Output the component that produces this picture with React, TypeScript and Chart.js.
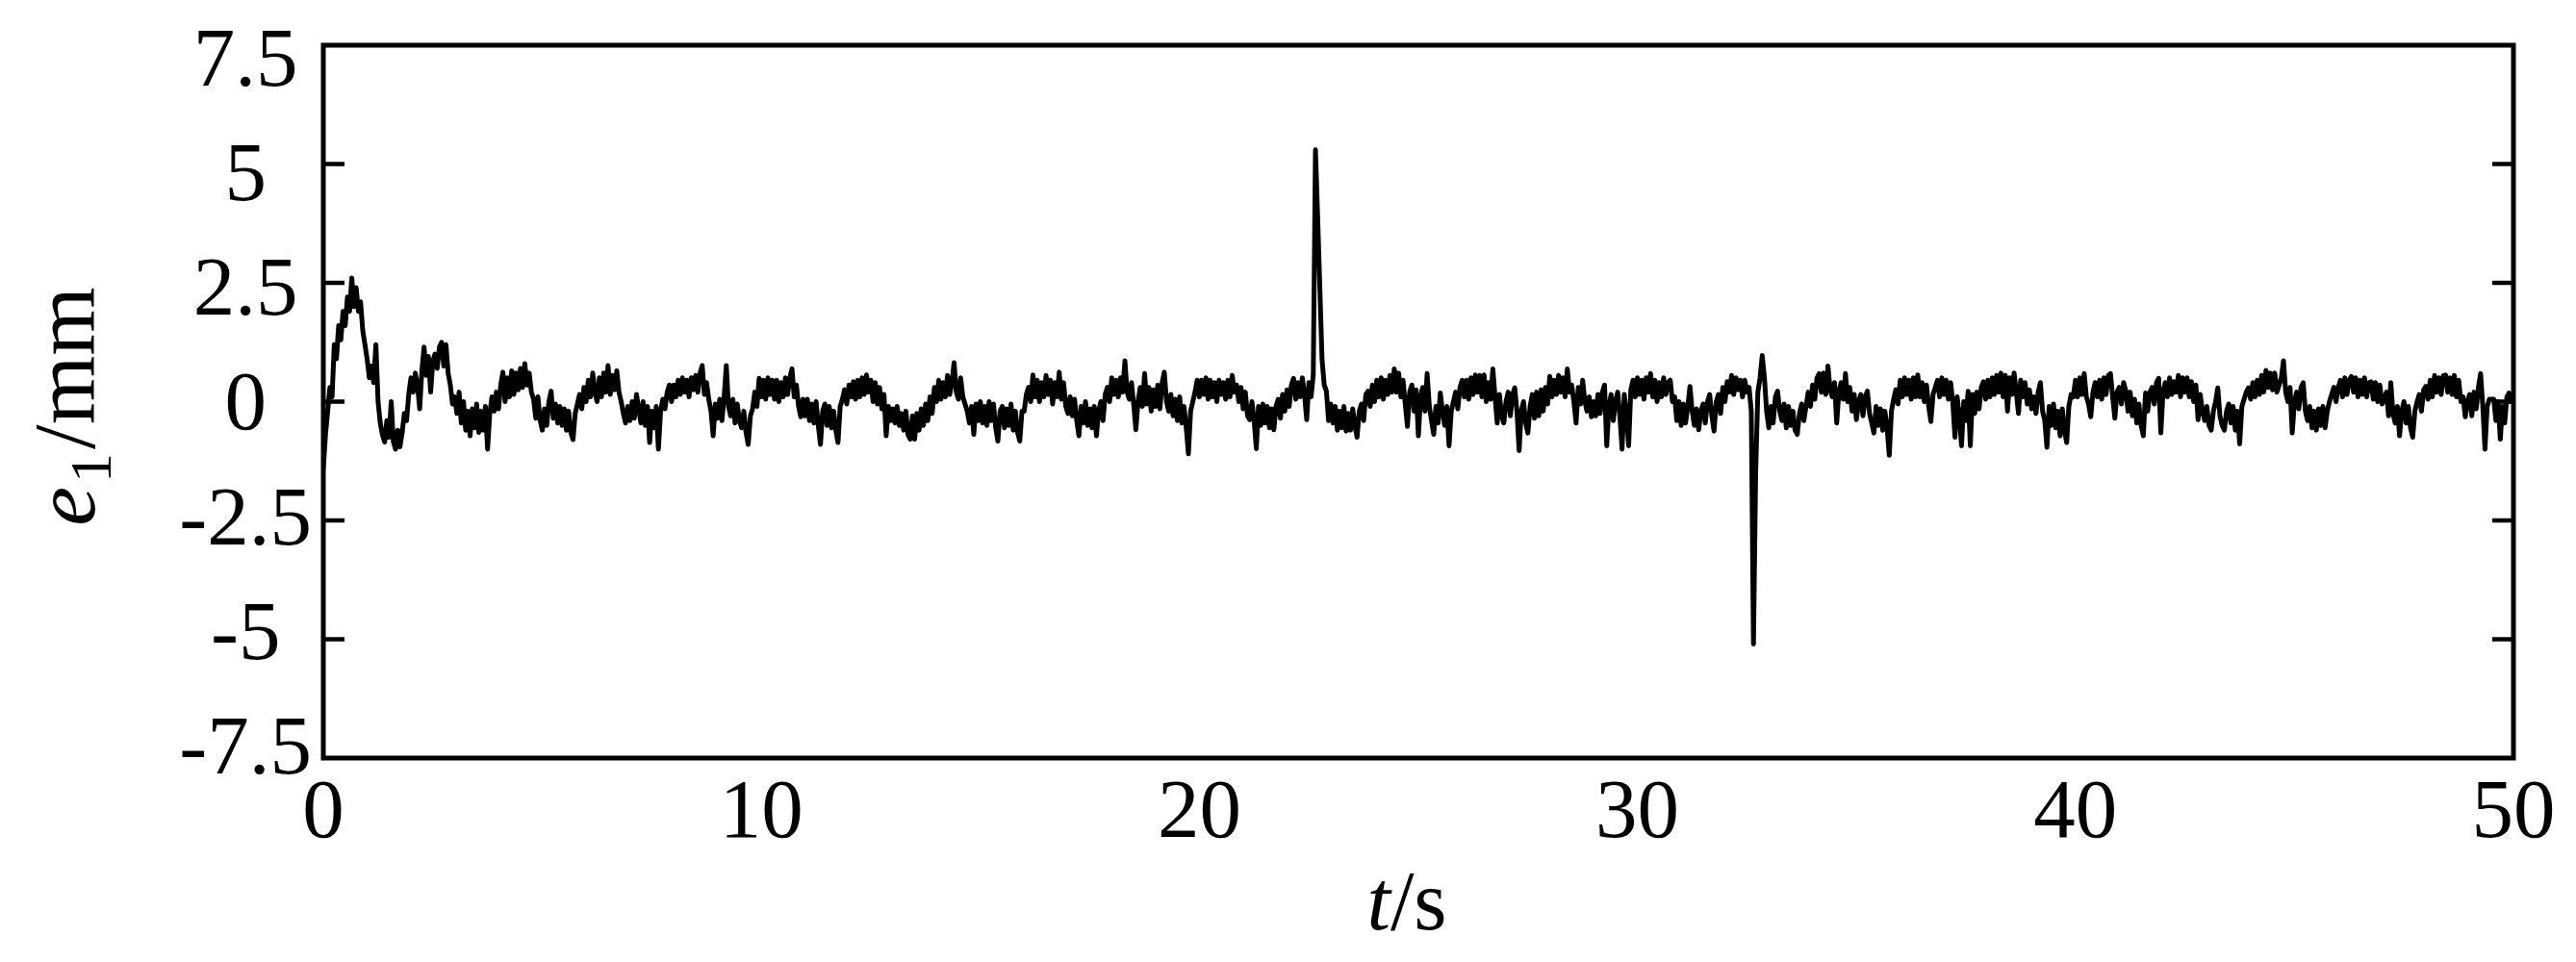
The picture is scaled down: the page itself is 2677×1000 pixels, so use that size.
import React, { useEffect, useRef } from 'react';
import { Chart, registerables } from 'chart.js';

Chart.register(...registerables);

// ---------------- data ----------------
// e1 tracking error, sampled every 0.05 s from 0 s to 50 s
const SAMPLE_STEP_S = 0.05;

const e1_00_10: number[] = [
  -1.4, -0.7, -0.2, 0.3, 0.1, 1.2, 0.9, 1.6, 1.3, 1.9, 1.6, 2.2, 1.9, 2.6, 2.0, 2.4, 1.9, 2.1, 1.5, 1.2,
  0.9, 0.5, 0.75, 0.4, 1.2, 0.0, -0.45, -0.7, -0.85, -0.4, -0.75, 0.0, -0.85, -1.0, -0.6, -0.95, -0.65, -0.25, -0.4, 0.15,
  0.5, 0.2, 0.6, 0.35, -0.15, 0.65, 1.15, 0.55, 0.95, 0.2, 0.85, 1.0, 0.7, 1.15, 1.25, 0.75, 1.2, 0.6, 0.35, -0.05,
  0.1, -0.25, 0.2, -0.45, 0.0, -0.6, -0.2, -0.72, -0.15, -0.55, -0.05, -0.65, -0.2, -0.6, -0.1, -1.0, -0.25, 0.1, -0.2, 0.2,
  -0.15, 0.35, 0.62, 0.0, 0.5, 0.1, 0.65, 0.15, 0.6, 0.25, 0.7, 0.3, 0.8, 0.35, 0.6, 0.2, 0.05, -0.35, 0.1, -0.4,
  -0.6, -0.15, -0.5, 0.0, 0.22, -0.35, -0.05, -0.45, -0.1, -0.5, -0.15, -0.6, -0.2, -0.65, -0.8, -0.25, -0.05, 0.15, -0.15, 0.3,
  0.0, 0.45, 0.1, 0.6, 0.2, 0.0, 0.5, 0.1, 0.6, 0.2, 0.76, 0.15, 0.55, 0.25, 0.65, 0.2, 0.0, -0.25, -0.45, -0.1,
  -0.4, 0.0, -0.35, 0.15, -0.15, -0.45, 0.0, -0.5, -0.1, -0.86, -0.2, -0.55, -0.1, -1.0, -0.2, 0.05, -0.15, 0.2, 0.35, 0.0,
  0.35, 0.1, 0.45, 0.15, 0.5, 0.2, 0.45, 0.1, 0.5, 0.25, 0.55, 0.2, 0.6, 0.76, 0.15, 0.4, 0.05, -0.2, -0.72, -0.05,
  -0.35, 0.05, -0.4, 0.1, 0.76, -0.1, -0.3, 0.05, -0.45, -0.05, -0.4, -0.55, -0.2, -0.65, -0.9, -0.3, -0.15, 0.2, -0.1, 0.49,
];

const e1_10_20: number[] = [
  0.1, 0.45, 0.05, 0.5, 0.15, 0.45, 0.05, 0.45, 0.0, 0.4, 0.1, 0.5, 0.15, 0.5, 0.69, 0.1, 0.35, -0.1, -0.32, 0.05,
  -0.3, 0.05, -0.4, -0.05, -0.45, 0.0, -0.5, -0.9, -0.2, -0.05, -0.5, -0.1, -0.55, -0.2, -0.6, -0.86, -0.1, 0.05, 0.25, -0.05,
  0.35, 0.1, 0.42, 0.05, 0.45, 0.1, 0.5, 0.15, 0.56, 0.2, 0.45, 0.0, 0.4, -0.05, 0.3, -0.15, 0.15, -0.72, -0.1, -0.4,
  -0.15, -0.45, -0.1, -0.5, -0.25, -0.6, -0.2, -0.7, -0.79, -0.3, -0.79, -0.25, -0.6, -0.15, -0.5, -0.05, -0.4, 0.1, -0.25, 0.3,
  0.0, 0.45, 0.05, 0.4, 0.1, 0.55, 0.15, 0.4, 0.82, 0.2, 0.05, 0.5, 0.1, -0.05, -0.2, -0.45, -0.1, -0.69, -0.05, -0.4,
  0.0, -0.45, -0.1, -0.5, 0.0, -0.4, -0.05, -0.55, -0.83, -0.2, -0.1, -0.55, -0.15, -0.5, -0.05, -0.6, -0.2, -0.65, -0.83, -0.2,
  -0.2, 0.15, 0.3, 0.0, 0.56, 0.1, 0.45, 0.0, 0.4, 0.1, 0.55, 0.15, 0.45, -0.05, 0.4, 0.1, 0.62, 0.05, 0.4, -0.1,
  -0.25, 0.1, -0.3, 0.05, -0.4, -0.72, -0.1, -0.45, 0.0, -0.5, -0.15, -0.55, -0.1, -0.72, -0.2, 0.0, -0.4, 0.15, 0.3, 0.0,
  0.5, 0.15, 0.45, 0.1, 0.5, 0.2, 0.86, 0.2, 0.05, 0.4, -0.05, -0.59, 0.0, 0.3, -0.1, 0.59, -0.05, 0.3, -0.2, 0.25,
  -0.1, 0.35, -0.15, 0.4, 0.62, 0.0, -0.2, 0.15, -0.3, 0.05, -0.4, 0.1, -0.45, -0.1, -0.55, -1.1, -0.2, 0.0, 0.2, 0.45,
];

const e1_20_30: number[] = [
  0.1, 0.45, 0.15, 0.5, 0.05, 0.45, 0.1, 0.4, 0.0, 0.45, 0.15, 0.4, 0.05, 0.45, 0.1, 0.55, 0.2, 0.35, 0.0, 0.3,
  -0.15, 0.2, -0.3, -0.38, 0.0, -0.4, -0.99, -0.1, -0.5, -0.05, -0.45, -0.1, -0.55, -0.15, -0.59, -0.1, 0.05, -0.35, 0.15, -0.2,
  0.25, -0.1, 0.35, 0.49, 0.05, 0.4, 0.1, 0.5, 0.15, -0.38, 0.4, 0.1, 0.56, 5.3, 3.9, 2.4, 0.9, 0.35, 0.22, -0.4,
  -0.05, -0.45, -0.1, -0.6, -0.2, -0.55, -0.1, -0.62, -0.25, -0.6, -0.15, -0.5, -0.75, -0.2, -0.05, -0.4, 0.15, 0.22, -0.1, 0.35,
  0.0, 0.45, 0.1, 0.5, 0.05, 0.45, 0.15, 0.55, 0.2, 0.69, 0.2, 0.6, 0.1, 0.45, -0.05, -0.52, 0.2, 0.35, -0.2, 0.25,
  -0.72, 0.1, 0.3, -0.2, 0.59, -0.1, -0.4, -0.69, -0.1, -0.45, 0.18, -0.2, -0.5, -0.1, -0.93, -0.2, 0.0, 0.2, -0.15, 0.3,
  0.45, 0.1, 0.45, 0.05, 0.5, 0.15, 0.56, 0.2, 0.55, 0.1, 0.56, 0.0, 0.4, 0.05, 0.69, 0.1, -0.45, 0.15, -0.3, -0.45,
  0.0, 0.2, -0.3, 0.15, 0.29, -0.2, -1.03, -0.2, 0.0, -0.45, -0.66, -0.1, 0.15, -0.35, 0.2, -0.3, 0.25, -0.2, 0.3, -0.05,
  0.53, 0.1, 0.45, 0.15, 0.55, 0.2, 0.5, 0.1, 0.69, 0.2, 0.35, 0.0, -0.45, 0.3, -0.05, 0.45, 0.0, -0.2, 0.1, -0.32,
  0.0, -0.3, 0.15, -0.25, 0.2, 0.35, -0.93, -0.1, 0.15, -0.4, 0.0, 0.2, -0.3, -1.0, 0.15, -0.25, -0.93, 0.25, 0.45, 0.1,
];

const e1_30_40: number[] = [
  0.5, 0.15, 0.45, 0.05, 0.5, 0.2, 0.59, 0.1, 0.45, 0.0, 0.4, 0.1, 0.5, 0.15, 0.4, 0.45, 0.0, 0.1, -0.4, 0.0,
  -0.5, -0.05, -0.45, -0.1, 0.32, -0.2, -0.5, -0.15, -0.59, -0.2, -0.05, -0.45, 0.0, 0.15, -0.3, -0.62, 0.0, 0.15, -0.25, 0.3,
  0.0, 0.42, 0.2, 0.55, 0.15, 0.5, 0.25, 0.45, 0.1, 0.45, 0.2, 0.3, -0.2, -5.1, -1.5, 0.2, 0.5, 0.97, 0.5, -0.2,
  -0.55, -0.1, -0.45, 0.1, 0.22, -0.2, -0.4, -0.05, -0.55, -0.1, -0.5, -0.2, -0.6, -0.69, -0.25, -0.05, -0.4, -0.1, 0.2, -0.1,
  0.35, 0.05, 0.5, 0.59, 0.2, 0.6, 0.15, 0.75, 0.25, 0.1, 0.4, -0.45, 0.2, 0.4, 0.05, 0.59, 0.0, 0.3, -0.2, 0.15,
  -0.38, 0.0, 0.15, -0.3, 0.1, 0.22, -0.25, -0.45, -0.66, -0.1, -0.5, -0.15, -0.6, -0.2, -0.55, -1.13, -0.2, 0.05, 0.25, -0.05,
  0.45, 0.1, 0.5, 0.15, 0.45, 0.05, 0.5, 0.1, 0.56, 0.1, 0.4, 0.0, 0.35, -0.1, -0.42, 0.15, 0.3, 0.45, 0.1, 0.5,
  0.15, 0.45, 0.05, 0.4, 0.0, -0.75, 0.1, -0.3, -0.93, 0.0, -0.4, 0.22, -0.93, 0.15, -0.25, 0.2, -0.15, 0.3, 0.42, 0.05,
  0.45, 0.1, 0.5, 0.15, 0.55, 0.2, 0.6, 0.1, 0.55, -0.2, 0.5, 0.15, 0.6, 0.2, -0.25, 0.45, 0.1, 0.4, -0.05, 0.25,
  -0.15, 0.1, -0.25, 0.2, 0.4, -0.2, -0.4, -0.96, -0.1, -0.5, -0.05, -0.55, -0.2, -0.72, -0.15, -0.6, -0.86, -0.1, 0.15, 0.1,
];

const e1_40_50: number[] = [
  0.45, 0.1, 0.5, 0.15, 0.59, 0.1, -0.05, -0.32, 0.2, 0.4, 0.1, 0.45, 0.05, 0.5, 0.15, 0.55, 0.59, 0.1, -0.35, 0.2,
  0.3, -0.05, 0.4, 0.22, -0.2, 0.2, -0.3, 0.05, -0.45, -0.05, -0.5, -0.72, 0.18, -0.2, 0.2, 0.3, -0.05, 0.4, 0.49, -0.66,
  0.2, 0.4, 0.1, 0.5, 0.15, 0.42, 0.2, 0.55, 0.1, 0.5, 0.2, 0.5, 0.1, 0.42, 0.0, 0.35, -0.38, 0.15, -0.2, -0.4,
  -0.1, -0.5, -0.6, -0.2, 0.0, 0.29, -0.3, -0.5, -0.6, -0.2, -0.05, -0.45, -0.1, -0.6, -0.2, -0.89, -0.1, 0.05, 0.2, 0.29,
  0.05, 0.4, 0.1, 0.45, 0.15, 0.55, 0.2, 0.66, 0.3, 0.6, 0.25, 0.6, 0.2, 0.35, 0.5, 0.86, 0.2, 0.0, 0.3, -0.66,
  0.0, 0.2, -0.15, 0.3, 0.4, -0.2, -0.4, -0.1, -0.55, -0.2, -0.6, -0.15, -0.5, -0.1, -0.55, -0.2, 0.0, 0.15, 0.3, 0.0,
  0.3, 0.45, 0.1, 0.5, 0.15, 0.45, 0.53, 0.2, 0.5, 0.1, 0.45, 0.15, 0.5, 0.1, 0.4, 0.42, 0.05, 0.4, 0.0, 0.35,
  -0.05, 0.05, 0.2, -0.3, 0.4, -0.25, -0.45, -0.1, -0.72, -0.2, 0.0, -0.45, -0.1, -0.55, -0.75, -0.2, 0.0, 0.15, -0.2, 0.25,
  0.32, 0.05, 0.45, 0.1, 0.55, 0.2, 0.5, 0.15, 0.55, 0.56, 0.2, 0.5, 0.15, 0.55, 0.1, 0.45, 0.0, 0.1, -0.32, 0.0,
  0.15, -0.3, 0.2, -0.15, 0.3, 0.59, -0.1, -1.0, -0.1, 0.05, 0.05, 0.05, -0.4, 0.0, -0.79, -0.1, -0.45, 0.1, 0.18, 0.0,
  0.05,
];

// axes
const X_MIN = 0;
const X_MAX = 50;
const X_TICK_STEP = 10;
const Y_MIN = -7.5;
const Y_MAX = 7.5;
const Y_TICK_STEP = 2.5;
const Y_INNER_TICKS = [-5, -2.5, 0, 2.5, 5];
// the printed tick labels sit slightly closer together than the tick marks
const Y_LABEL_MIN = -7.647;
const Y_LABEL_MAX = 7.899;

const Y_TITLE = { main: 'e', sub: '1', rest: '/mm' };
const X_TITLE = { main: 't', rest: '/s' };

const SERIF = '"Liberation Serif", "Times New Roman", Times, serif';

export default function App() {
  const canvasRef = useRef<HTMLCanvasElement | null>(null);

  useEffect(() => {
    const canvas = canvasRef.current;
    if (!canvas) return;

    const values = [...e1_00_10, ...e1_10_20, ...e1_20_30, ...e1_30_40, ...e1_40_50];
    const points = values.map((v, i) => ({ x: Math.round(i * SAMPLE_STEP_S * 100) / 100, y: v }));

    const framePlugin = {
      id: 'frameAndTitles',
      afterDraw(chart: any) {
        const { ctx, chartArea } = chart;
        const { left, right, top, bottom } = chartArea;
        const yScale = chart.scales.y;
        ctx.save();
        ctx.strokeStyle = '#000';
        ctx.lineWidth = 5;
        ctx.lineJoin = 'miter';
        ctx.strokeRect(left, top, right - left, bottom - top);

        // inward tick marks on both vertical sides
        ctx.lineWidth = 4.5;
        ctx.lineCap = 'butt';
        const tickLen = 22;
        for (const v of Y_INNER_TICKS) {
          const py = yScale.getPixelForValue(v);
          ctx.beginPath();
          ctx.moveTo(left, py);
          ctx.lineTo(left + tickLen, py);
          ctx.moveTo(right, py);
          ctx.lineTo(right - tickLen, py);
          ctx.stroke();
        }

        ctx.fillStyle = '#000';
        ctx.textBaseline = 'alphabetic';
        ctx.textAlign = 'left';

        // y-axis title, rotated
        const fMain = `92px ${SERIF}`;
        const fIt = `italic 92px ${SERIF}`;
        const fSub = `62px ${SERIF}`;
        ctx.font = fIt;
        const wE = ctx.measureText(Y_TITLE.main).width;
        ctx.font = fSub;
        const w1 = ctx.measureText(Y_TITLE.sub).width;
        ctx.font = fMain;
        const wRest = ctx.measureText(Y_TITLE.rest).width;
        const gap = 4;
        const totalY = wE + gap + w1 + gap + wRest;
        const yCenter = (top + bottom) / 2 + 5;
        ctx.save();
        ctx.translate(98, yCenter + totalY / 2);
        ctx.rotate(-Math.PI / 2);
        ctx.font = fIt;
        ctx.fillText(Y_TITLE.main, 0, 0);
        ctx.font = fSub;
        ctx.fillText(Y_TITLE.sub, wE + gap, 17);
        ctx.font = fMain;
        ctx.fillText(Y_TITLE.rest, wE + gap + w1 + gap, 0);
        ctx.restore();

        // x-axis title
        const fxMain = `88px ${SERIF}`;
        const fxIt = `italic 88px ${SERIF}`;
        ctx.font = fxIt;
        const wT = ctx.measureText(X_TITLE.main).width;
        ctx.font = fxMain;
        const wS = ctx.measureText(X_TITLE.rest).width;
        const xCenter = (left + right) / 2 - 12;
        const x0 = xCenter - (wT + wS) / 2;
        ctx.font = fxIt;
        ctx.fillText(X_TITLE.main, x0, 966);
        ctx.font = fxMain;
        ctx.fillText(X_TITLE.rest, x0 + wT, 966);

        ctx.restore();
      },
    };

    const tickFont = { family: SERIF, size: 87 };

    const chart = new Chart(canvas, {
      type: 'line',
      data: {
        datasets: [
          {
            data: points,
            borderColor: '#000',
            borderWidth: 5,
            pointRadius: 0,
            tension: 0,
            fill: false,
            borderJoinStyle: 'round',
            borderCapStyle: 'round',
            xAxisID: 'x',
            yAxisID: 'y',
          } as any,
        ],
      },
      options: {
        animation: false,
        responsive: false,
        devicePixelRatio: 1,
        events: [],
        layout: { padding: { top: 47, right: 65, bottom: 0, left: 0 } },
        plugins: {
          legend: { display: false },
          tooltip: { enabled: false },
        },
        scales: {
          x: {
            type: 'linear',
            position: 'bottom',
            min: X_MIN,
            max: X_MAX,
            grid: { display: false, drawTicks: false },
            border: { display: false },
            ticks: {
              stepSize: X_TICK_STEP,
              padding: 7,
              autoSkip: false,
              maxRotation: 0,
              color: '#000',
              font: tickFont,
              callback: (v: any) => String(v),
            },
            afterFit: (s: any) => {
              s.height = 212;
              s.paddingLeft = 0;
              s.paddingRight = 0;
            },
          },
          y: {
            type: 'linear',
            min: Y_MIN,
            max: Y_MAX,
            display: false,
          },
          yl: {
            type: 'linear',
            position: 'left',
            min: Y_LABEL_MIN,
            max: Y_LABEL_MAX,
            grid: { display: false, drawTicks: false },
            border: { display: false },
            ticks: {
              stepSize: Y_TICK_STEP,
              includeBounds: false,
              crossAlign: 'center',
              padding: 12,
              color: '#000',
              font: tickFont,
              callback: (v: any) => String(v),
            },
            afterFit: (s: any) => {
              s.width = 336;
              s.paddingTop = 0;
              s.paddingBottom = 0;
            },
          },
        },
      } as any,
      plugins: [framePlugin],
    });

    return () => {
      chart.destroy();
    };
  }, []);

  return (
    <div style={{ position: 'fixed', left: 0, top: 0, width: 2677, height: 1000, background: '#fff' }}>
      <canvas ref={canvasRef} width={2677} height={1000} style={{ display: 'block', width: 2677, height: 1000 }} />
    </div>
  );
}
